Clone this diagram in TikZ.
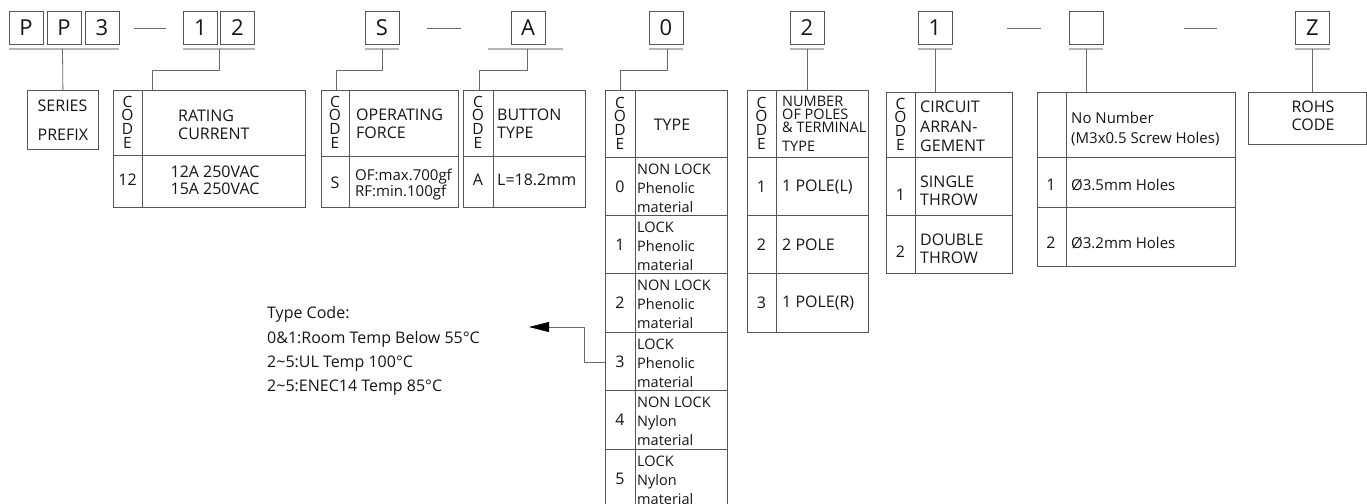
\documentclass[tikz,border=0pt]{standalone}
\usepackage{fontspec}
\setmainfont{Open Sans}
\usepackage{tikz}
\usetikzlibrary{arrows.meta}
\definecolor{ink}{HTML}{161616}
\definecolor{rule}{HTML}{555555}
\definecolor{wire}{HTML}{6A6A6A}
\definecolor{shade}{HTML}{B4B4B4}
\tikzstyle{codebox} = [draw=rule, line width=0.8pt, minimum width=34pt, minimum height=33pt, inner sep=0pt, text=ink, font=\fontsize{22}{24}\selectfont]
\tikzstyle{uline} = [draw=shade, line width=2.2pt]
\tikzstyle{sep} = [draw=wire, line width=0.8pt]
\tikzstyle{link} = [draw=wire, line width=0.8pt]
\tikzstyle{tbl} = [draw=rule, line width=0.8pt, anchor=north west, inner sep=0pt]
\tikzstyle{grid} = [draw=rule, line width=0.8pt]
\tikzstyle{codecol} = [inner sep=0pt, align=center, text=ink, font=\fontsize{15.5}{13.6}\selectfont]
\tikzstyle{num} = [inner sep=0pt, text=ink, font=\fontsize{16}{18}\selectfont]
\tikzstyle{lbl} = [num, anchor=west, align=left]
\tikzstyle{small} = [lbl, font=\fontsize{14.5}{19}\selectfont]

\begin{document}
\begin{tikzpicture}[x=1pt, y=-1pt]
    \useasboundingbox (0,0) rectangle (1367,503);
    \clip (0,0) rectangle (1367,503);
    % part number
    \node[codebox] at (26,28) (pa) {P};
    \node[codebox] at (64,28) (pb) {P};
    \node[codebox] at (102,28) (pc) {3};
    \node[codebox] at (200.5,28) (ra) {1};
    \node[codebox] at (237.5,28) (rb) {2};
    \node[codebox] at (382,28) (fs) {S};
    \node[codebox] at (528,28) (bt) {A};
    \node[codebox] at (666,28) (ty) {0};
    \node[codebox] at (807,28) (np) {2};
    \node[codebox] at (935,28) (ca) {1};
    \node[codebox] at (1086,28) (mh) {};
    \node[codebox] at (1312.5,28) (rh) {Z};
    \draw[sep] (134,28) -- (166,28);
    \draw[sep] (427,28) -- (461,28);
    \draw[sep] (1007,28) -- (1041,28);
    \draw[sep] (1184,28) -- (1217,28);
    
    \draw[uline] ([yshift=-4.5pt]pa.south west) -- ([yshift=-4.5pt]pc.south east);
    \draw[uline] ([yshift=-4.5pt]ra.south west) -- ([yshift=-4.5pt]rb.south east);
    \draw[uline] ([yshift=-4.5pt]fs.south west) -- ([yshift=-4.5pt]fs.south east);
    \draw[uline] ([xshift=-23pt, yshift=-4.5pt]bt.south west) -- ([xshift=18pt, yshift=-4.5pt]bt.south east);
    \draw[uline] ([yshift=-4.5pt]ty.south west) -- ([yshift=-4.5pt]ty.south east);
    \draw[uline] ([yshift=-4.5pt]np.south west) -- ([yshift=-4.5pt]np.south east);
    \draw[uline] ([yshift=-4.5pt]ca.south west) -- ([yshift=-4.5pt]ca.south east);
    \draw[uline] ([yshift=-4.5pt]mh.south west) -- ([yshift=-4.5pt]mh.south east);
    \draw[uline] ([yshift=-4.5pt]rh.south west) -- ([yshift=-4.5pt]rh.south east);
    \coordinate (upp) at (62.5,49);
    \coordinate (u12) at (219,49);
    \coordinate (us) at (382,49);
    \coordinate (ua) at (527,49);
    \coordinate (u0) at (667,49);
    \coordinate (upoles) at (807,49);
    \coordinate (ucirc) at (935,49);
    \coordinate (uholes) at (1086,49);
    \coordinate (urohs) at (1312,49);
    
    % series prefix
    \node[tbl, minimum width=71pt, minimum height=59pt, align=left, text=ink, font=\fontsize{16}{29}\selectfont] at (27,90) (series) {SERIES\\PREFIX};
    \path[link] (upp) -- (series.north);
    
    % rating current
    \node[tbl, minimum width=192pt, minimum height=117pt] at (113,90) (rate) {};
    \draw[grid] (142,90) -- (142,207) (113,155) -- (305,155);
    \path[link] (u12) -- ++(0,21) -| ([xshift=39pt]rate.north west);
    \node[codecol] at (127.5,122) (ratecode) {C\\O\\D\\E};
    \node[lbl] at (178,125) (ratehead) {RATING\\CURRENT};
    \node[num] at (127.5,180) (rate12) {12};
    \node[num, align=center, font=\fontsize{16}{17}\selectfont] at (215,180) (rateval) {12A 250VAC\\15A 250VAC};
    
    % operating force
    \node[tbl, minimum width=137pt, minimum height=117pt] at (321,90) (force) {};
    \draw[grid] (349,90) -- (349,207) (321,156) -- (458,156);
    \path[link] (us) -- ++(0,21) -| ([xshift=15pt]force.north west);
    \node[codecol] at (335,122) (forcecode) {C\\O\\D\\E};
    \node[lbl] at (356,124) (forcehead) {OPERATING\\FORCE};
    \node[num] at (335,183) (forces) {S};
    \node[lbl, font=\fontsize{15}{16}\selectfont] at (355,185) (forceval) {OF:max.700gf\\RF:min.100gf};
    
    % button type
    \node[tbl, minimum width=122pt, minimum height=117pt] at (463,90) (button) {};
    \draw[grid] (493,90) -- (493,207) (463,156) -- (585,156);
    \path[link] (ua) -- ++(0,21) -| ([xshift=16pt]button.north west);
    \node[codecol] at (478,122) (buttoncode) {C\\O\\D\\E};
    \node[lbl] at (497,124) (buttonhead) {BUTTON\\TYPE};
    \node[num] at (478,180) (buttona) {A};
    \node[lbl] at (497,180) (buttonval) {L=18.2mm};
    
    % type
    \node[tbl, minimum width=122pt, minimum height=417pt] at (605,90) (type) {};
    \draw[grid] (635,90) -- (635,507);
    \draw[grid] (605,157) -- (727,157) (605,215) -- (727,215) (605,273) -- (727,273);
    \draw[grid] (605,332) -- (727,332) (605,390) -- (727,390) (605,449) -- (727,449);
    \path[link] (u0) -- ++(0,21) -| ([xshift=15pt]type.north west);
    \node[codecol] at (620,123) (typecode) {C\\O\\D\\E};
    \node[num] at (672,125) (typehead) {TYPE};
    \node[num] at (620,187) (type0) {0};
    \node[small] at (637,188) (type0txt) {NON LOCK\\Phenolic\\material};
    \node[num] at (620,245) (type1) {1};
    \node[small] at (637,246) (type1txt) {LOCK\\Phenolic\\material};
    \node[num] at (620,303) (type2) {2};
    \node[small] at (637,304) (type2txt) {NON LOCK\\Phenolic\\material};
    \node[num] at (620,362) (type3) {3};
    \node[small] at (637,363) (type3txt) {LOCK\\Phenolic\\material};
    \node[num] at (620,420) (type4) {4};
    \node[small] at (637,421) (type4txt) {NON LOCK\\Nylon\\material};
    \node[num] at (620,479) (type5) {5};
    \node[small] at (637,480) (type5txt) {LOCK\\Nylon\\material};
    
    % type code note
    \node[lbl, font=\fontsize{16}{24.3}\selectfont] at (267,351) (tcnote) {Type Code:\\0\&1:Room Temp Below 55°C\\2\textasciitilde 5:UL Temp 100°C\\2\textasciitilde 5:ENEC14 Temp 85°C};
    \coordinate (tctip) at (529,327);
    \path[link, -{Triangle[length=20pt, width=10pt, color=black]}] ([yshift=-272pt]type.north west) -- ++(-21,0) |- (tctip);
    
    % number of poles
    \node[tbl, minimum width=121pt, minimum height=242pt] at (747,90) (poles) {};
    \draw[grid] (776,90) -- (776,332);
    \draw[grid] (747,157) -- (868,157) (747,215) -- (868,215) (747,273) -- (868,273);
    \path[link] (upoles) -- (upoles |- poles.north);
    \node[codecol] at (761.5,123) (polescode) {C\\O\\D\\E};
    \node[lbl, font=\fontsize{14.5}{12.8}\selectfont] at (782,124) (poleshead) {NUMBER\\OF POLES\\\& TERMINAL\\[7pt]TYPE};
    \node[num] at (761.5,187) (poles1) {1};
    \node[lbl] at (782,187) (poles1txt) {1 POLE(L)};
    \node[num] at (761.5,245) (poles2) {2};
    \node[lbl] at (782,245) (poles2txt) {2 POLE};
    \node[num] at (761.5,303) (poles3) {3};
    \node[lbl] at (782,303) (poles3txt) {1 POLE(R)};
    
    % circuit arrangement
    \node[tbl, minimum width=126pt, minimum height=181pt] at (886,92) (circ) {};
    \draw[grid] (915,92) -- (915,273);
    \draw[grid] (886,157) -- (1012,157) (886,215) -- (1012,215);
    \path[link] (ucirc) -- (ucirc |- circ.north);
    \node[codecol] at (900.5,124) (circcode) {C\\O\\D\\E};
    \node[lbl, font=\fontsize{16}{19.5}\selectfont] at (920,126.5) (circhead) {CIRCUIT\\ARRAN-\\GEMENT};
    \node[num] at (900.5,195) (circ1) {1};
    \node[lbl] at (920,191) (circ1txt) {SINGLE\\THROW};
    \node[num] at (900.5,252) (circ2) {2};
    \node[lbl] at (920,249) (circ2txt) {DOUBLE\\THROW};
    
    % screw holes
    \node[tbl, minimum width=198pt, minimum height=174pt] at (1037,92) (holes) {};
    \draw[grid] (1066,92) -- (1066,266);
    \draw[grid] (1037,157) -- (1235,157) (1037,207) -- (1235,207);
    \path[link] (uholes) -- (uholes |- holes.north);
    \node[lbl, font=\fontsize{15}{20}\selectfont] at (1071,128.5) (holeshead) {No Number\\(M3x0.5 Screw Holes)};
    \node[num] at (1051,185) (holes1) {1};
    \node[lbl, font=\fontsize{15}{18}\selectfont] at (1071,185) (holes1txt) {Ø3.5mm Holes};
    \node[num] at (1051,243) (holes2) {2};
    \node[lbl, font=\fontsize{15}{18}\selectfont] at (1071,243) (holes2txt) {Ø3.2mm Holes};
    
    % rohs
    \node[tbl, minimum width=118pt, minimum height=52pt] at (1248,92) (rohs) {};
    \path[link] (urohs) -- (urohs |- rohs.north);
    \node[num, align=center] at (1313,116) (rohstxt) {ROHS\\CODE};
\end{tikzpicture}
\end{document}
